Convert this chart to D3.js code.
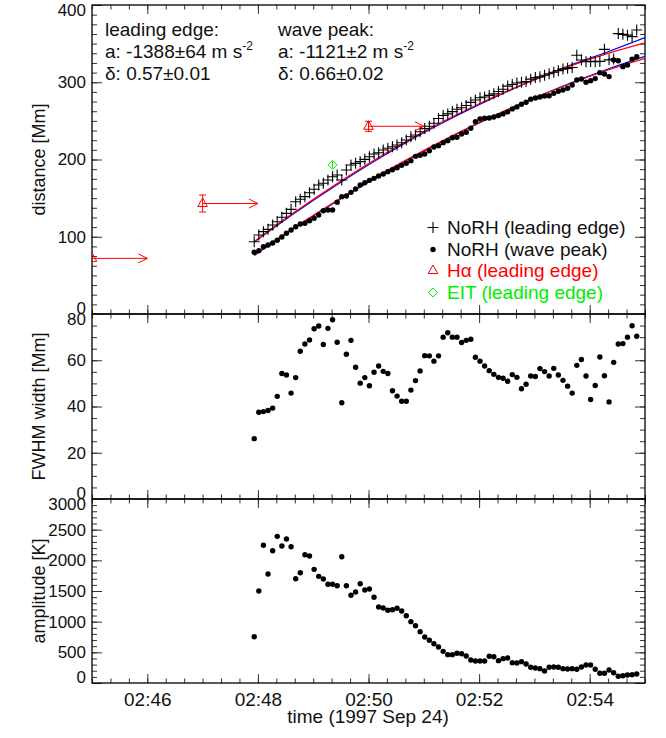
<!DOCTYPE html>
<html><head><meta charset="utf-8">
<script src="https://cdn.jsdelivr.net/npm/d3@7"></script>
<style>
body{margin:0;background:#fff;}
svg text{font-family:"Liberation Sans",Arial,Helvetica,sans-serif;}
</style></head>
<body><svg id="c" width="666" height="738"></svg>
<script>
// ---------- data ----------
const times = ["02:47:56","02:48:01","02:48:06","02:48:11","02:48:16","02:48:21","02:48:26","02:48:31","02:48:36","02:48:41",
"02:48:46","02:48:51","02:48:56","02:49:01","02:49:06","02:49:11","02:49:16","02:49:21","02:49:26","02:49:31",
"02:49:36","02:49:41","02:49:46","02:49:51","02:49:56","02:50:01","02:50:06","02:50:11","02:50:16","02:50:21",
"02:50:26","02:50:31","02:50:36","02:50:41","02:50:46","02:50:51","02:50:56","02:51:01","02:51:06","02:51:11",
"02:51:16","02:51:21","02:51:26","02:51:31","02:51:36","02:51:41","02:51:46","02:51:51","02:51:56","02:52:01",
"02:52:06","02:52:11","02:52:16","02:52:21","02:52:26","02:52:31","02:52:36","02:52:41","02:52:46","02:52:51",
"02:52:56","02:53:01","02:53:06","02:53:11","02:53:16","02:53:21","02:53:26","02:53:31","02:53:36","02:53:41",
"02:53:46","02:53:51","02:53:56","02:54:01","02:54:06","02:54:11","02:54:16","02:54:21","02:54:26","02:54:31",
"02:54:36","02:54:41","02:54:46","02:54:51"];

const leadingEdge = [93.6,102.3,106.6,109.6,115.2,119.5,125.2,130.3,135.5,145.4,
148.5,151.9,157,161.4,167,169.2,173.5,177.7,179.9,173.5,
186.4,192.9,195,197.2,200.2,203.6,207.1,208.8,212.3,214.5,
216.6,218.8,221.7,225.2,229.5,231.7,236,240,243,247,
253,257,259,262,265,267,270,274,277,280,
281,283,285,288,291,295,297,299,300,301,
304,306,307,309,311,313,315,317,318,319,
335,328.8,326.6,327,326.6,327,342.6,329,330,363,
362,361,359,367.6];

const wavePeak = [79.9,82,87.1,89.3,91.9,95.4,99.7,104.5,108.7,113,
116.5,117.4,120.8,123.8,128.2,133.7,134.6,134.6,144.6,151.9,
152.7,157.5,161.8,167,170,173,175.6,178.6,181.2,184.3,
186.8,189.4,192.4,195,198.5,204.1,205.4,207.1,211.4,216.2,
217.9,221.8,224.4,228.2,228.8,233,235.3,240.4,249,252.5,
253.4,253.8,255.1,256.8,259,261.6,265.5,268.1,271.5,274.1,
277.9,279.6,280.9,282.2,282.6,285.6,288.3,290,292.2,296.5,
303,304.3,300,302.1,304.7,312.4,310.7,307.3,328.8,327.9,
320.2,322.3,330,333];

const fwhm = [26.1,37.5,37.8,38.3,39.3,44.4,54.3,53.6,45.8,52.5,
63.9,67,68.8,73.6,74.8,66.8,73.8,77.5,67.8,41.6,
62.6,68.6,57,50.1,52.5,49,54.8,57.5,55.2,54.3,
46.8,44.5,42.3,42.3,47.1,51.2,55.4,62,61.9,59.6,
61.9,70,71.9,70,70,67.7,68.6,69.1,61.3,59.6,
57.5,55.5,53.9,52.6,52.2,50.9,53.8,52.6,47.7,49.6,
53.2,53,56.4,55.1,53.2,56.5,53.6,51.3,48.8,45.8,
57.8,60.3,53.2,43,49.1,61.4,53.3,42,59.1,67,
67.2,70,74.9,70.4];

const amplitude = [755,1500,2245,1777,2157,2391,2233,2347,2222,1700,
1798,2091,2070,1853,1739,1695,1609,1609,1586,2059,
1586,1430,1483,1619,1516,1532,1397,1239,1223,1185,
1195,1218,1174,1097,1000,934,837,750,696,641,
587,516,462,462,484,478,440,375,359,359,
359,435,429,364,397,408,332,326,348,310,
256,245,234,196,256,261,256,234,228,234,
223,261,293,293,223,158,158,212,168,109,
119,130,136,147];

// fit curves (read at knots)
const fitTimes   = ["02:47:56","02:48:40","02:49:30","02:50:20","02:51:10","02:52:00","02:52:50","02:53:40","02:54:20","02:55:00"];
const leFitRed   = [93.6,131.9,172.2,209,242.4,272.2,298.6,321.6,337.4,351];
const leFitBlue  = [93.2,130.8,170.6,207.5,241,271,298,322.5,339.5,357.7];
const wpFitRed   = [76.4,112.2,150.3,185.6,218,247.7,274.6,298.7,315.9,331];
const wpFitBlue  = [75.8,111.3,149.3,184.6,217.2,247.2,274.5,299.4,317.2,333.5];

const haTimes  = ["02:45:00","02:47:00","02:50:00"];
const haValues = [72,143,243];
const haErrors = [0,11,6.5];
const eitTimes  = ["02:49:21"];
const eitValues = [193];
const eitErrors = [4.5];

const distTicks = [0,100,200,300,400];
const fwhmTicks = [0,20,40,60,80];
const ampTicks  = [0,500,1000,1500,2000,2500,3000];

const legendLabels = ["NoRH (leading edge)","NoRH (wave peak)","H\u03b1 (leading edge)","EIT (leading edge)"];

// ---------- layout ----------
const FS = 19, FSY = 17, FST = 18;
const parse = d3.timeParse("%H:%M:%S");
const T = times.map(parse);
const svg = d3.select("#c");
const L = 92, R = 645;
const panels = [
  {top:5, bottom:314, domain:[0,400], ticks:distTicks, minor:12.5, label:"distance [Mm]"},
  {top:314, bottom:499, domain:[0,80], ticks:fwhmTicks, minor:5, label:"FWHM width [Mm]"},
  {top:499, bottom:683, domain:[0,3000], ticks:ampTicks, minor:100, label:"amplitude [K]"}
];
const x = d3.scaleTime().domain([parse("02:45:00"), parse("02:55:00")]).range([L,R]);
panels.forEach(p => { p.y = d3.scaleLinear().domain(p.domain).range([p.bottom,p.top]); });

const defs = svg.append("defs");
panels.forEach((p,i)=>{
  defs.append("clipPath").attr("id","clip"+i).append("rect")
    .attr("x",L).attr("y",p.top).attr("width",R-L).attr("height",p.bottom-p.top);
});

const majorX = x.ticks(d3.timeMinute.every(2));
const minorX = x.ticks(d3.timeSecond.every(20));
const fmt = d3.timeFormat("%H:%M");

function styleAxis(g, fs){
  g.select(".domain").remove();
  g.selectAll(".tick line").attr("stroke","#333").attr("stroke-width",1);
  g.selectAll(".tick text").attr("font-size",fs||FS).attr("fill","#111");
}

panels.forEach((p,i)=>{
  const g = svg.append("g");
  g.append("g").attr("transform",`translate(0,${p.bottom})`)
    .call(d3.axisBottom(x).tickValues(minorX).tickSize(-4.5).tickFormat("")).call(styleAxis);
  g.append("g").attr("transform",`translate(0,${p.bottom})`)
    .call(d3.axisBottom(x).tickValues(majorX).tickSize(-9).tickPadding(10)
      .tickFormat(i===2? fmt : "")).call(styleAxis);
  g.append("g").attr("transform",`translate(0,${p.top})`)
    .call(d3.axisTop(x).tickValues(minorX).tickSize(-4.5).tickFormat("")).call(styleAxis);
  g.append("g").attr("transform",`translate(0,${p.top})`)
    .call(d3.axisTop(x).tickValues(majorX).tickSize(-9).tickFormat("")).call(styleAxis);
  const minorY = d3.range(p.domain[0], p.domain[1]+1e-9, p.minor);
  g.append("g").attr("transform",`translate(${L},0)`)
    .call(d3.axisLeft(p.y).tickValues(minorY).tickSize(-5).tickFormat("")).call(styleAxis);
  const ya = g.append("g").attr("transform",`translate(${L},0)`)
    .call(d3.axisLeft(p.y).tickValues(p.ticks).tickSize(-10).tickPadding(6).tickFormat(d3.format("d")))
    .call(g2=>styleAxis(g2,FSY));
  // end labels sit slightly inside the frame, as in the reference
  ya.selectAll(".tick text").attr("transform", d => d===p.domain[0] ? "translate(0,-6)" : (d===p.domain[1] ? "translate(0,5.5)" : null));
  g.append("g").attr("transform",`translate(${R},0)`)
    .call(d3.axisRight(p.y).tickValues(minorY).tickSize(-5).tickFormat("")).call(styleAxis);
  g.append("g").attr("transform",`translate(${R},0)`)
    .call(d3.axisRight(p.y).tickValues(p.ticks).tickSize(-10).tickFormat("")).call(styleAxis);
  g.append("rect").attr("x",L).attr("y",p.top).attr("width",R-L).attr("height",p.bottom-p.top)
    .attr("fill","none").attr("stroke","#000").attr("stroke-width",1.3);
  svg.append("text").attr("transform",`translate(44.5,${(p.top+p.bottom)/2}) rotate(-90)`)
    .attr("text-anchor","middle").attr("font-size",FST).attr("fill","#111").text(p.label);
});

svg.append("text").attr("x",368).attr("y",723).attr("text-anchor","middle")
  .attr("font-size",FS).attr("fill","#111").text("time (1997 Sep 24)");

// ---------- top panel ----------
const p0 = panels[0];
const topG = svg.append("g").attr("clip-path","url(#clip0)");
const FT = fitTimes.map(parse);
const line = (vals)=> d3.line().x((d,i)=>x(FT[i])).y(d=>p0.y(d)).curve(d3.curveMonotoneX)(vals);
[[leFitBlue,"#0000ff"],[wpFitBlue,"#0000ff"],[leFitRed,"#ff0000"],[wpFitRed,"#ff0000"]].forEach(([v,c])=>{
  topG.append("path").attr("d",line(v)).attr("fill","none").attr("stroke",c).attr("stroke-width",1.2);
});
topG.selectAll(".cross").data(leadingEdge).join("path")
  .attr("transform",(d,i)=>`translate(${x(T[i])},${p0.y(d)})`)
  .attr("d","M-5.5,0H5.5M0,-5.5V5.5").attr("stroke","#000").attr("stroke-width",1.1).attr("fill","none");
topG.selectAll(".wp").data(wavePeak).join("circle")
  .attr("cx",(d,i)=>x(T[i])).attr("cy",d=>p0.y(d)).attr("r",2.7).attr("fill","#000");

const triPath = "M0,-5.5L4.8,3L-4.8,3Z";
const HT = haTimes.map(parse);
haValues.forEach((v,i)=>{
  const cx = x(HT[i]), cy = p0.y(v);
  const g = topG.append("g").attr("stroke","#ff0000").attr("fill","none").attr("stroke-width",1);
  if (haErrors[i]>0){
    const y1 = p0.y(v+haErrors[i]), y2 = p0.y(v-haErrors[i]);
    g.append("line").attr("x1",cx).attr("x2",cx).attr("y1",y1).attr("y2",y2);
    g.append("line").attr("x1",cx-3.5).attr("x2",cx+3.5).attr("y1",y1).attr("y2",y1);
    g.append("line").attr("x1",cx-3.5).attr("x2",cx+3.5).attr("y1",y2).attr("y2",y2);
  }
  g.append("path").attr("d",triPath).attr("transform",`translate(${cx},${cy})`);
  const tip = x(d3.timeMinute.offset(HT[i],1));
  g.append("line").attr("x1",cx).attr("x2",tip).attr("y1",cy).attr("y2",cy);
  g.append("path").attr("d",`M${tip-9},${cy-4.5}L${tip},${cy}L${tip-9},${cy+4.5}`);
});
const ET = eitTimes.map(parse);
eitValues.forEach((v,i)=>{
  const cx = x(ET[i]), cy = p0.y(v);
  const g = topG.append("g").attr("stroke","#00ee00").attr("fill","none").attr("stroke-width",1);
  g.append("line").attr("x1",cx).attr("x2",cx).attr("y1",p0.y(v+eitErrors[i])).attr("y2",p0.y(v-eitErrors[i]));
  g.append("path").attr("d","M0,-4.5L4.5,0L0,4.5L-4.5,0Z").attr("transform",`translate(${cx},${cy})`);
});

function annot(xp, title, aval, dval){
  const t = svg.append("g").attr("font-size",FS).attr("fill","#111");
  t.append("text").attr("x",xp).attr("y",36).text(title);
  const a = t.append("text").attr("x",xp).attr("y",58);
  a.append("tspan").text(aval);
  a.append("tspan").attr("dy",-8).attr("font-size",12).text("-2");
  t.append("text").attr("x",xp).attr("y",80).text(dval);
}
annot(105,"leading edge:","a: -1388\u00b164 m s","\u03b4: 0.57\u00b10.01");
annot(278,"wave peak:","a: -1121\u00b12 m s","\u03b4: 0.66\u00b10.02");

const legY = [234,256,277,299];
const legColors = ["#111","#111","#ff0000","#00ee00"];
const lg = svg.append("g");
legendLabels.forEach((s,i)=>{
  const sx = 433, sy = legY[i]-6.5;
  if(i===0) lg.append("path").attr("d",`M${sx-5.5},${sy}H${sx+5.5}M${sx},${sy-5.5}V${sy+5.5}`).attr("stroke","#000").attr("stroke-width",1.1);
  if(i===1) lg.append("circle").attr("cx",sx).attr("cy",sy).attr("r",2.7).attr("fill","#000");
  if(i===2) lg.append("path").attr("d",triPath).attr("transform",`translate(${sx},${sy})`).attr("stroke","#ff0000").attr("fill","none");
  if(i===3) lg.append("path").attr("d","M0,-4.5L4.5,0L0,4.5L-4.5,0Z").attr("transform",`translate(${sx},${sy})`).attr("stroke","#00ee00").attr("fill","none");
  lg.append("text").attr("x",447).attr("y",legY[i]).attr("font-size",FS).attr("fill",legColors[i]).text(s);
});

const p1 = panels[1];
svg.append("g").attr("clip-path","url(#clip1)").selectAll("circle").data(fwhm).join("circle")
  .attr("cx",(d,i)=>x(T[i])).attr("cy",d=>p1.y(d)).attr("r",2.7).attr("fill","#000");
const p2 = panels[2];
svg.append("g").attr("clip-path","url(#clip2)").selectAll("circle").data(amplitude).join("circle")
  .attr("cx",(d,i)=>x(T[i])).attr("cy",d=>p2.y(d)).attr("r",2.7).attr("fill","#000");
</script></body></html>
